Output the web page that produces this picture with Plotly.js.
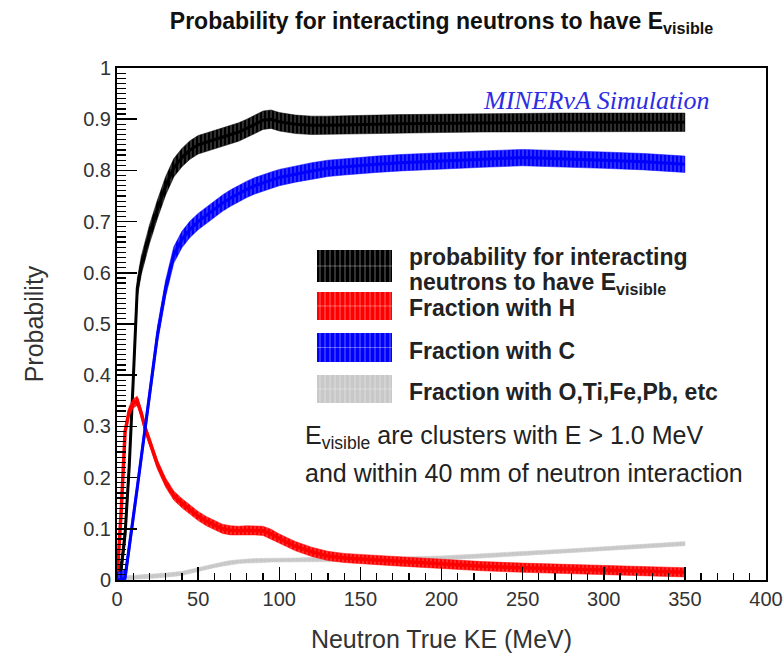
<!DOCTYPE html>
<html><head><meta charset="utf-8">
<script src="https://cdn.plot.ly/plotly-3.0.1.min.js"></script>
<style>html,body{margin:0;padding:0;background:#fff}#chart{width:783px;height:653px}</style>
</head><body><div id="chart"></div>
<script>
// Neutron true kinetic energy (MeV), bin centres
const energy = [0,2.5,5,7.5,10,12.5,15,17.5,20,
  25,30,35,40,45,50,55,60,65,70,75,80,85,90,95,100,
  110,120,130,140,150,160,
  175,200,225,250,275,300,325,350];
// probability for interacting neutrons to have E_visible
const probTotal = [0,0.02,0.09,0.22,0.39,0.57,0.615,0.645,0.675,
  0.725,0.77,0.805,0.825,0.84,0.85,0.855,0.86,0.865,0.87,0.875,0.882,0.89,0.898,0.9,0.895,
  0.89,0.888,0.888,0.889,0.89,0.89,
  0.891,0.892,0.893,0.894,0.894,0.894,0.894,0.894];
// fraction with H
const fracH = [0,0.13,0.29,0.33,0.345,0.35,0.325,0.295,0.272,
  0.225,0.19,0.165,0.15,0.137,0.125,0.115,0.107,0.1,0.097,0.096,0.097,0.097,0.096,0.09,0.081,
  0.066,0.055,0.047,0.043,0.041,0.039,
  0.036,0.031,0.027,0.024,0.022,0.02,0.017,0.015];
// fraction with C
const fracC = [0,0,0.005,0.06,0.12,0.18,0.24,0.3,0.36,
  0.48,0.57,0.635,0.665,0.685,0.70,0.712,0.724,0.736,0.746,0.755,0.763,0.77,0.776,0.781,0.786,
  0.793,0.799,0.804,0.807,0.81,0.812,
  0.815,0.819,0.822,0.825,0.823,0.82,0.817,0.812];
// fraction with O, Ti, Fe, Pb, etc
const fracOther = [0,0.002,0.004,0.005,0.005,0.006,0.006,0.007,0.007,
  0.008,0.009,0.011,0.013,0.016,0.02,0.024,0.028,0.031,0.034,0.036,0.037,0.038,0.038,0.039,0.039,
  0.039,0.04,0.04,0.04,0.04,0.04,
  0.041,0.043,0.047,0.051,0.056,0.061,0.066,0.071];
// band half-widths (uncertainty)
const errTotal = 0.018, errH = 0.009, errC = 0.016, errOther = 0.004;

const xTickVals = [0,50,100,150,200,250,300,350,400];
const yTickVals = [0,0.1,0.2,0.3,0.4,0.5,0.6,0.7,0.8,0.9,1];
const yTickText = ['0','0.1','0.2','0.3','0.4','0.5','0.6','0.7','0.8','0.9','1'];

const legendNames = ['probability for interacting', 'Fraction with H', 'Fraction with C', 'Fraction with O,Ti,Fe,Pb, etc'];

function band(y, e, color, name) {
  const up = y.map(v => v + e);
  const lo = y.map(v => v - e);
  return {
    type: 'scatter', mode: 'lines', name: name,
    x: energy.concat(energy.slice().reverse()),
    y: up.concat(lo.slice().reverse()),
    fill: 'toself', fillcolor: color,
    fillpattern: {shape: '|', fgcolor: '#ffffff', fgopacity: 0.45, bgcolor: color, size: 4, solidity: 0.2},
    line: {width: 0.5, color: color},
    hoverinfo: 'skip', showlegend: false
  };
}
function centre(y, color, w, name) {
  return {type: 'scatter', mode: 'lines', name: name, x: energy, y: y,
    line: {width: w, color: color}, hoverinfo: 'skip', showlegend: false};
}

const cBlack = '#000000', cRed = '#ff0000', cBlue = '#0000ff', cGrey = '#c8c8c8';
const traces = [
  band(fracOther, errOther, cGrey, legendNames[3]), centre(fracOther, cGrey, 2, legendNames[3]),
  band(probTotal, errTotal, cBlack, legendNames[0]), centre(probTotal, cBlack, 3, legendNames[0]),
  band(fracH, errH, cRed, legendNames[1]), centre(fracH, cRed, 3.5, legendNames[1]),
  band(fracC, errC, cBlue, legendNames[2]), centre(fracC, cBlue, 3, legendNames[2])
];

// plot area in pixels: x 117..766, y 68..580
const L = 117, R = 766, T = 68, B = 580;
const px = v => (v - L) / (R - L);
const py = v => (B - v) / (B - T);

const shapes = [];
const swatches = [[250,282,cBlack],[292,320,cRed],[333,362,cBlue],[375,403,cGrey]];
swatches.forEach(s => {
  shapes.push({type:'rect', xref:'paper', yref:'paper', x0:px(317), x1:px(392), y0:py(s[1]), y1:py(s[0]),
    fillcolor:s[2], line:{width:0}, layer:'above'});
  for (let q = 320; q < 392; q += 5) {
    shapes.push({type:'line', xref:'paper', yref:'paper', x0:px(q), x1:px(q), y0:py(s[1]), y1:py(s[0]),
      line:{color:'rgba(255,255,255,0.4)', width:1}, layer:'above'});
  }
  const mid = (s[0] + s[1]) / 2;
  shapes.push({type:'line', xref:'paper', yref:'paper', x0:px(317), x1:px(392), y0:py(mid), y1:py(mid),
    line:{color:'rgba(255,255,255,0.35)', width:1}, layer:'above'});
});

const legFont = {family:'Liberation Sans, Arial, sans-serif', size:23, color:'#222', weight:'bold'};
const noteFont = {family:'Liberation Sans, Arial, sans-serif', size:25, color:'#222'};
const annotations = [
  {xref:'paper', yref:'paper', x:px(712), y:py(100), xanchor:'right', yanchor:'middle', showarrow:false,
   text:'<i>MINERνA Simulation</i>', font:{family:'Liberation Serif, Times New Roman, serif', size:26, color:'rgb(45,45,225)'}},
  {xref:'paper', yref:'paper', x:px(407), y:py(257), xanchor:'left', yanchor:'middle', showarrow:false, text:'<b>' + legendNames[0] + '</b>', font:legFont},
  {xref:'paper', yref:'paper', x:px(407), y:py(283), xanchor:'left', yanchor:'middle', showarrow:false, text:'<b>neutrons to have E<sub>visible</sub></b>', font:legFont},
  {xref:'paper', yref:'paper', x:px(407), y:py(308), xanchor:'left', yanchor:'middle', showarrow:false, text:'<b>' + legendNames[1] + '</b>', font:legFont},
  {xref:'paper', yref:'paper', x:px(407), y:py(351), xanchor:'left', yanchor:'middle', showarrow:false, text:'<b>' + legendNames[2] + '</b>', font:legFont},
  {xref:'paper', yref:'paper', x:px(407), y:py(392), xanchor:'left', yanchor:'middle', showarrow:false, text:'<b>' + legendNames[3] + '</b>', font:legFont},
  {xref:'paper', yref:'paper', x:px(303), y:py(437), xanchor:'left', yanchor:'middle', showarrow:false, text:'E<sub>visible</sub> are clusters with E &gt; 1.0 MeV', font:noteFont},
  {xref:'paper', yref:'paper', x:px(303), y:py(473), xanchor:'left', yanchor:'middle', showarrow:false, text:'and within 40 mm of neutron interaction', font:noteFont}
];

const layout = {
  width: 783, height: 653,
  margin: {l: L, r: 783 - R, t: T, b: 653 - B, pad: 0},
  paper_bgcolor: '#ffffff', plot_bgcolor: '#ffffff',
  showlegend: false,
  font: {family: 'Liberation Sans, Arial, sans-serif', color: '#222'},
  title: {text: '<b>Probability for interacting neutrons to have E<sub>visible</sub></b>',
    font: {size: 23, color: '#111'}, x: 0.5, xref: 'paper', xanchor: 'center', y: 1 - 21/653, yref: 'container', yanchor: 'middle'},
  xaxis: {range: [0, 400], tickvals: xTickVals, ticks: 'inside', ticklen: 13, tickwidth: 1.5, tickcolor: '#000',
    minor: {ticks: 'inside', dtick: 10, tick0: 0, ticklen: 7, tickwidth: 1.2, tickcolor: '#000', showgrid: false},
    showline: true, linecolor: '#000', linewidth: 2, mirror: true, showgrid: false, zeroline: false,
    tickfont: {size: 20, color: '#333'},
    title: {text: 'Neutron True KE (MeV)', font: {size: 25, color: '#333'}, standoff: 22}},
  yaxis: {range: [0, 1], tickvals: yTickVals, ticktext: yTickText, ticks: 'inside', ticklen: 20, tickwidth: 1.5, tickcolor: '#000',
    minor: {ticks: 'inside', dtick: 0.01, tick0: 0, ticklen: 9, tickwidth: 1.2, tickcolor: '#000', showgrid: false},
    showline: true, linecolor: '#000', linewidth: 2, mirror: true, showgrid: false, zeroline: false,
    tickfont: {size: 20, color: '#333'},
    title: {text: 'Probability', font: {size: 25, color: '#333'}, standoff: 32}},
  shapes: shapes,
  annotations: annotations
};

Plotly.newPlot('chart', traces, layout, {displayModeBar: false, staticPlot: true});
</script>
</body></html>
